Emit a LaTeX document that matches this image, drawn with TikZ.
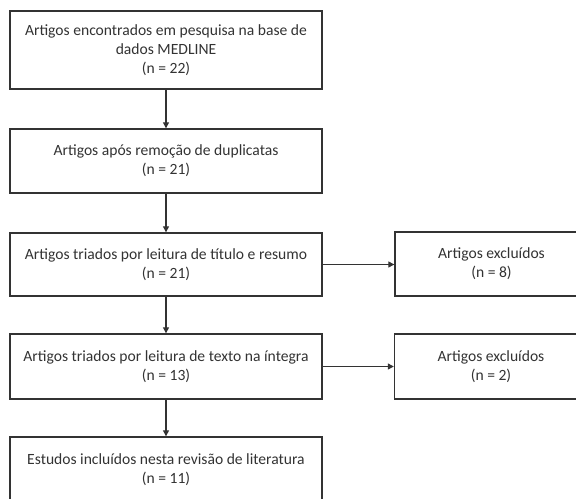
\documentclass[tikz,border=0pt]{standalone}
\usepackage{fontspec}
\setmainfont{Carlito}
\usetikzlibrary{arrows.meta}
\definecolor{ink}{HTML}{333333}
\tikzset{
  box/.style={draw=ink, line width=1.4bp, rectangle, align=center, text=ink,
    font=\fontsize{15.6bp}{19bp}\selectfont, inner sep=0pt},
  conn/.style={draw=ink, line width=1.2bp, -{Triangle[length=6bp,width=6bp]}}
}
\begin{document}
\begin{tikzpicture}[x=1bp,y=-1bp]
\useasboundingbox (0,0) rectangle (576,499);
\clip (0,0) rectangle (576,499);
\fill[white] (0,0) rectangle (576,499);
\node[box, minimum width=312bp, minimum height=78bp] (b1) at (166,50)
  {Artigos encontrados em pesquisa na base de\\dados MEDLINE\\(n = 22)};
\node[box, minimum width=312bp, minimum height=64bp] (b2) at (166,161)
  {Artigos após remoção de duplicatas\\(n = 21)};
\node[box, minimum width=312bp, minimum height=63bp] (b3) at (166,264.5)
  {Artigos triados por leitura de título e resumo\\(n = 21)};
\node[box, minimum width=312bp, minimum height=65bp] (b4) at (166,366.5)
  {Artigos triados por leitura de texto na íntegra\\(n = 13)};
\node[box, minimum width=312bp, minimum height=65bp] (b5) at (166,469.5)
  {Estudos incluídos nesta revisão de literatura\\(n = 11)};
\node[box, minimum width=193bp, minimum height=64bp] (e1) at (491.5,264)
  {Artigos excluídos\\(n = 8)};
\node[box, minimum width=193bp, minimum height=65bp] (e2) at (491,366.5)
  {Artigos excluídos\\(n = 2)};
\draw[conn] (b1) -- (b2);
\draw[conn] (b2) -- (b3);
\draw[conn] (b3) -- (b4);
\draw[conn] (b4) -- (b5);
\draw[conn] (b3.east) -- (b3.east -| e1.west);
\draw[conn] (b4.east) -- (b4.east -| e2.west);
\end{tikzpicture}
\end{document}
